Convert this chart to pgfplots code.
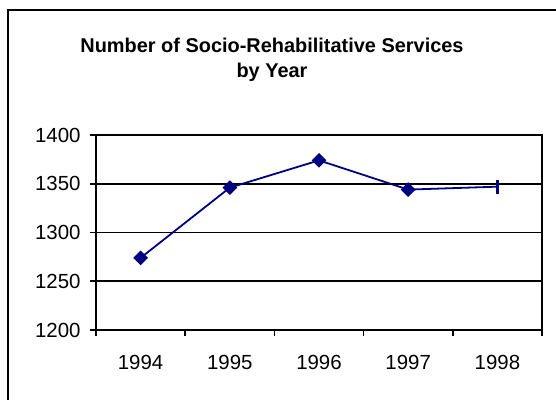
\documentclass[border=0pt]{standalone}
\usepackage{pgfplots}
\pgfplotsset{compat=1.18}
\usepackage{fontspec}
\setmainfont{Liberation Sans}
\definecolor{navyline}{RGB}{0,0,128}
\begin{document}
\begin{tikzpicture}
\path[use as bounding box] (0,0) rectangle (556bp,-400bp);
\draw[line width=1.6bp] (8bp,-402bp) -- (8bp,-10bp) -- (558bp,-10bp);
\node[align=center, font=\fontsize{20}{25}\selectfont\bfseries] at (272bp,-60bp)
  {Number of Socio-Rehabilitative Services\\by Year};
\begin{axis}[
  at={(96bp,-330bp)}, anchor=south west,
  scale only axis, width=446bp, height=195bp,
  xmin=-0.5, xmax=4.5, ymin=1200, ymax=1400,
  xtick={0,1,2,3,4},
  xticklabels={1994,1995,1996,1997,1998},
  minor xtick={-0.5,0.5,1.5,2.5,3.5,4.5},
  major x tick style={draw=none},
  xtick pos=bottom, ytick pos=left,
  ytick={1200,1250,1300,1350,1400},
  tick align=outside,
  major tick length=6bp, minor tick length=6bp,
  tick style={black, line width=1.6bp},
  ymajorgrids, grid style={black, line width=1.6bp},
  axis line style={line width=1.8bp},
  /pgf/number format/1000 sep={},
  /pgf/number format/assume math mode=true,
  tick label style={font=\fontsize{20.5}{24}\selectfont},
  yticklabel style={xshift=-6bp},
  xticklabel style={yshift=-16bp},
  clip=false,
]
\addplot[navyline, line width=1.8bp, mark=square*, mark size=4.3bp,
  mark indices={1,2,3,4}, mark options={solid, fill=navyline, rotate=45}]
  coordinates {(0,1274) (1,1346) (2,1374) (3,1344) (4,1347)};
\addplot[navyline, line width=2.2bp, mark=|, mark size=7bp, only marks]
  coordinates {(4,1347)};
\end{axis}
\end{tikzpicture}
\end{document}
